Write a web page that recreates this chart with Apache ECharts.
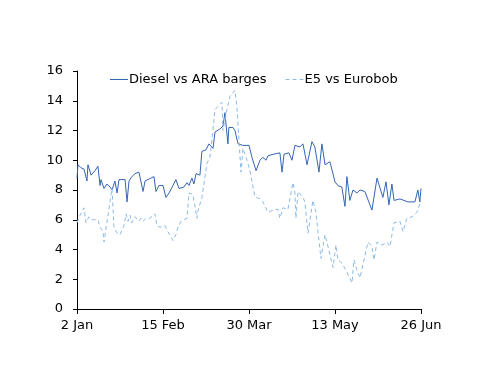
<!DOCTYPE html>
<html>
<head>
<meta charset="utf-8">
<script src="https://cdn.jsdelivr.net/npm/echarts@6/dist/echarts.min.js"></script>
<style>html,body{margin:0;padding:0;background:#fff}#c{width:500px;height:386px}</style>
</head>
<body>
<div id="c"></div>
<script>
// x values: days since 2 Jan 2024
const tickLabels = ['2 Jan', '15 Feb', '30 Mar', '13 May', '26 Jun'];
const tickDays = [0, 44, 88, 132, 176];

const dieselDays = [0,0.5,2.0,3.6,5.1,5.6,7.2,8.2,9.2,10.7,11.8,12.3,13.8,15.3,16.9,17.9,19.4,20.5,21.5,23.0,24.6,25.6,26.6,28.1,29.7,31.7,33.8,34.8,36.3,37.3,39.4,40.4,41.9,44.0,45.5,47.1,49.1,50.6,52.2,54.7,56.3,57.3,58.8,59.8,60.9,62.9,63.9,66.0,67.5,69.6,70.6,73.1,74.7,75.7,77.2,77.7,79.8,80.8,82.4,84.9,88.0,89.5,91.6,93.6,95.1,96.7,97.7,100.3,103.8,104.9,105.9,108.4,110.0,111.5,114.1,115.6,117.7,120.2,121.7,123.8,125.3,126.9,129.4,132.0,133.5,135.5,137.1,138.1,139.6,141.2,143.2,144.8,147.3,150.9,153.5,156.5,158.1,159.6,161.1,162.2,165.2,169.3,172.9,174.4,175.4,176];
const dieselValues = [8.8,9.7,9.5,9.4,8.6,9.7,9.0,9.0,9.3,9.6,8.3,8.7,8.1,8.4,8.2,8.0,8.6,7.8,8.7,8.7,8.7,7.2,8.6,8.9,9.1,9.2,7.9,8.6,8.7,8.8,8.9,7.9,8.3,8.3,7.5,7.8,8.3,8.7,8.1,8.2,8.5,8.3,8.8,8.4,9.1,9.0,10.6,10.7,11.1,10.8,11.9,12.1,12.3,13.2,11.1,12.2,12.2,12.0,11.1,11.0,11.0,10.2,9.3,10.0,10.2,10.0,10.3,10.4,10.5,9.2,10.4,10.5,10.0,11.0,10.9,11.1,9.7,11.25,10.9,9.2,11.1,9.7,9.9,8.55,8.3,8.2,6.9,8.9,7.3,8.0,7.8,8.0,7.9,6.65,8.8,7.5,8.55,7.0,8.4,7.3,7.4,7.2,7.2,8.0,7.2,8.1];

const e5Days = [0,1.5,3.6,4.6,6.1,7.7,9.2,10.7,11.8,13.3,13.8,17.9,18.9,20.5,22.0,24.0,25.1,26.1,27.1,28.1,29.7,30.7,31.7,32.7,33.8,35.3,37.3,39.9,40.9,42.5,43.5,45.0,46.5,49.1,50.6,51.7,53.2,54.7,56.3,57.3,59.3,61.4,61.9,63.9,66.5,68.0,69.1,70.6,72.6,74.2,74.7,76.7,78.3,80.8,81.8,83.9,84.9,87.0,88.5,91.0,93.6,95.1,97.7,101.3,102.8,103.8,105.4,107.9,110.5,111.5,112.0,113.1,115.6,116.6,118.2,120.7,122.2,124.8,126.9,128.4,131.0,132.5,133.5,135.5,137.6,140.7,141.7,143.2,144.8,146.8,148.9,150.9,151.9,153.5,156.0,158.6,160.1,162.2,165.2,166.8,168.8,171.4,173.9,175.4];
const e5Values = [5.8,6.3,6.8,5.8,6.2,6.0,6.0,6.0,5.5,5.2,4.5,8.1,5.5,5.1,5.0,5.6,6.4,5.9,6.3,5.8,6.2,6.3,5.9,6.1,5.9,6.1,6.1,6.4,5.6,5.5,5.5,5.6,5.2,4.6,5.0,5.5,5.9,6.0,6.1,7.8,7.7,6.1,6.6,7.5,9.8,10.2,11.4,13.4,13.7,13.9,12.0,13.4,14.3,14.7,13.6,9.2,10.8,10.0,9.3,7.55,7.4,7.2,6.5,6.7,6.7,6.1,6.8,6.7,8.5,7.8,6.1,7.9,7.5,7.2,5.1,7.3,6.5,3.4,5.0,4.2,2.8,4.3,3.3,3.1,2.6,1.75,3.3,2.6,2.1,3.3,4.5,4.2,3.3,4.5,4.3,4.5,4.2,5.8,5.9,5.2,6.1,6.2,6.5,7.1];

const seriesNames = ['Diesel vs ARA barges', 'E5 vs Eurobob'];
const yTicks = [0, 2, 4, 6, 8, 10, 12, 14, 16];

const pair = (xs, ys) => xs.map((x, i) => [x, ys[i]]);
const font = 'DejaVu Sans';
const dieselColor = '#3565b5';
const e5Color = '#8cbbe8';
const solidIcon = 'path://M0,0H18V1H0Z';
const dashIcon = 'path://M0,0H4V1H0Z M7,0H11V1H7Z M14,0H18V1H14Z';
const chart = echarts.init(document.getElementById('c'), null, {renderer: 'canvas'});
chart.setOption({
  animation: false,
  backgroundColor: '#fff',
  textStyle: {fontFamily: font},
  grid: {left: 77, right: 79, top: 71, bottom: 77, containLabel: false},
  legend: {
    left: 105, top: 68, itemWidth: 18, itemHeight: 1, itemGap: 19,
    textStyle: {fontFamily: font, fontSize: 13, color: '#000', padding: [0,0,0,-4]},
    data: [
      {name: seriesNames[0], icon: solidIcon, itemStyle: {color: dieselColor, borderWidth: 0}},
      {name: seriesNames[1], icon: dashIcon, itemStyle: {color: e5Color, borderWidth: 0}}
    ]
  },
  xAxis: {
    type: 'value', min: 0, max: 176, interval: 44,
    axisLine: {lineStyle: {color: '#000', width: 1}},
    axisTick: {show: true, length: 5, lineStyle: {color: '#000'}},
    splitLine: {show: false},
    axisLabel: {
      fontFamily: font, fontSize: 13, color: '#000', margin: 10,
      formatter: v => { const i = tickDays.indexOf(v); return i >= 0 ? tickLabels[i] : ''; }
    }
  },
  yAxis: {
    type: 'value', min: yTicks[0], max: yTicks[yTicks.length-1], interval: 2,
    axisLine: {show: true, lineStyle: {color: '#000', width: 1}},
    axisTick: {show: true, length: 4, lineStyle: {color: '#000'}},
    splitLine: {show: false},
    axisLabel: {fontFamily: font, fontSize: 13, color: '#000', margin: 14}
  },
  series: [
    {
      name: seriesNames[0], type: 'line', symbol: 'none',
      data: pair(dieselDays, dieselValues),
      lineStyle: {color: dieselColor, width: 1},
      itemStyle: {color: dieselColor}
    },
    {
      name: seriesNames[1], type: 'line', symbol: 'none',
      data: pair(e5Days, e5Values),
      lineStyle: {color: e5Color, width: 1, type: [4, 3]},
      itemStyle: {color: e5Color}
    }
  ]
});
</script>
</body>
</html>
